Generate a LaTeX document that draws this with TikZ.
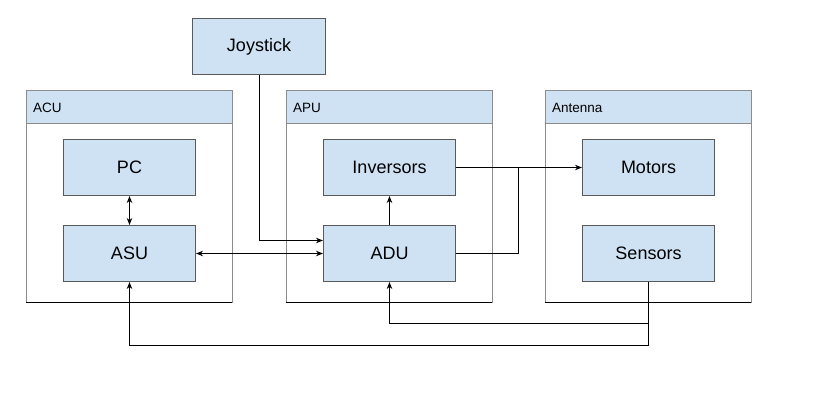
\documentclass[tikz,border=0pt]{standalone}
\usepackage{fontspec}
\setmainfont{Liberation Sans}
\usetikzlibrary{arrows.meta}
\definecolor{boxfill}{HTML}{CFE2F3}
\definecolor{boxline}{HTML}{595959}
\definecolor{contline}{HTML}{8C8C8C}
\begin{document}
\begin{tikzpicture}[x=1pt,y=-1pt,
  box/.style={draw=boxline, fill=boxfill, line width=1pt, minimum width=132pt, minimum height=56pt, inner sep=0pt, anchor=north west, font=\fontsize{18}{20}\selectfont},
  cont/.style={draw=contline, line width=1pt, minimum width=206pt, minimum height=211pt, inner sep=0pt, outer sep=0pt, anchor=north west},
  head/.style={draw=contline, fill=boxfill, line width=1pt, minimum height=33pt, inner xsep=7pt, inner ysep=0pt, outer sep=0pt, text width=192pt, align=left, anchor=north west, font=\fontsize{13.5}{15}\selectfont},
  conn/.style={line width=1pt, draw=black},
  arr/.style={conn, -{Stealth[length=7pt,width=5.5pt]}},
  dbl/.style={conn, {Stealth[length=7pt,width=5.5pt]}-{Stealth[length=7pt,width=5.5pt]}}]
\useasboundingbox (0,0) rectangle (830,409);
% containers
\node[cont] (acu) at (26,91) {};
\node[head] (acuh) at (26,91) {ACU};
\draw[conn] (acu.south west) -- (acu.south east);
\node[cont] (apu) at (286,91) {};
\node[head] (apuh) at (286,91) {APU};
\draw[conn] (apu.south west) -- (apu.south east);
\node[cont] (ant) at (545,91) {};
\node[head] (anth) at (545,91) {Antenna};
\draw[conn] (ant.south west) -- (ant.south east);
% boxes
\node[box, minimum width=133pt] (joy) at (192,18) {Joystick};
\node[box] (pc) at (63,139) {PC};
\node[box] (asu) at (63,225) {ASU};
\node[box] (inv) at (323,139) {Inversors};
\node[box] (adu) at (323,225) {ADU};
\node[box] (mot) at (582,139) {Motors};
\node[box] (sen) at (582,225) {Sensors};
% connectors
\coordinate (j) at (518,167);
\draw[arr] (joy.south) |- ([yshift=13pt]adu.west);
\draw[dbl] (pc) -- (asu);
\draw[dbl] (asu) -- (adu);
\draw[arr] (adu) -- (inv);
\draw[arr] (inv) -- (mot);
\draw[conn] (adu.east) -| (j);
\draw[arr] (sen.south) -- ++(0,41) -| (adu.south);
\draw[arr] (sen.south) -- ++(0,63) -| (asu.south);
\end{tikzpicture}
\end{document}
